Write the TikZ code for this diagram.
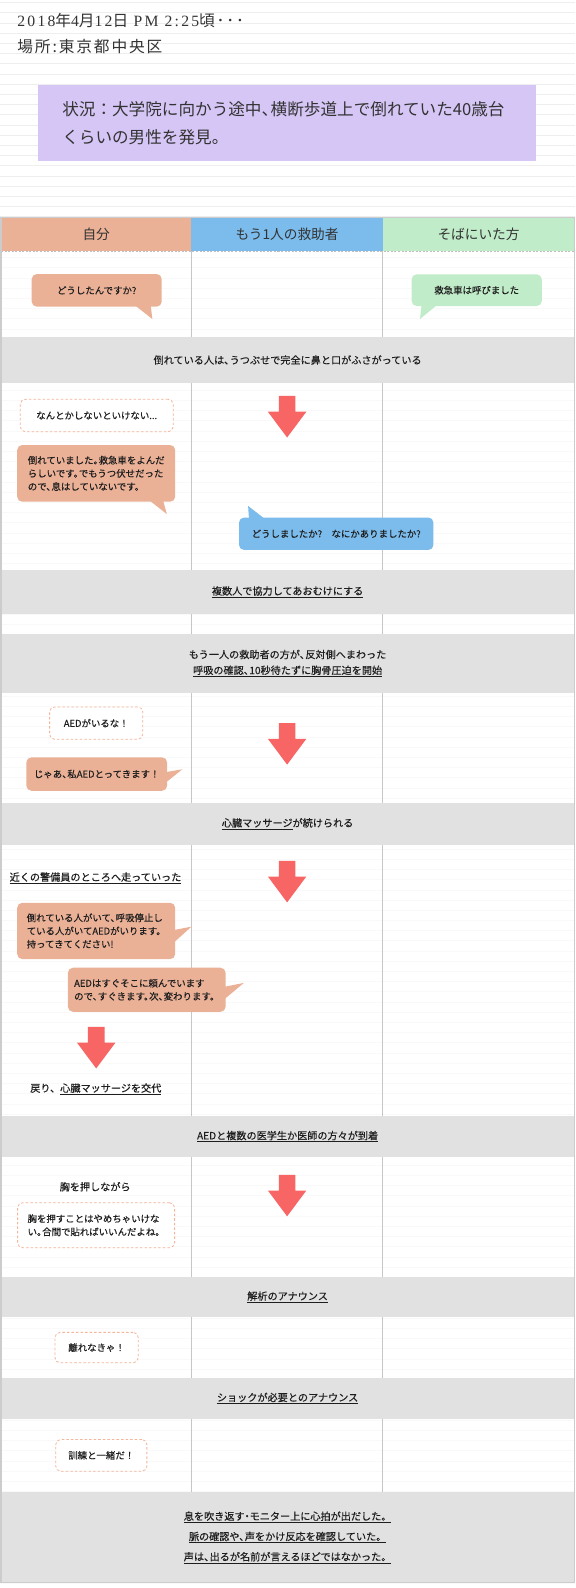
\documentclass[tikz,border=0pt]{standalone}
\usepackage{fontspec}
\setmainfont{Noto Sans CJK JP}
\newfontfamily\datelatin{Liberation Serif}[LetterSpace=14]
\usepackage{xcolor}
\usepackage{tikz}

% half-width 、 and 。 and ・ as in the original layout
\XeTeXinterchartokenstate=1
\newXeTeXintercharclass\halfpunct
\newXeTeXintercharclass\middot
\XeTeXcharclass"3001=\halfpunct
\XeTeXcharclass"3002=\halfpunct
\XeTeXcharclass"30FB=\middot
\XeTeXinterchartoks\halfpunct 0={\kern-.45em}
\XeTeXinterchartoks\halfpunct 1={\kern-.45em}
\XeTeXinterchartoks\halfpunct 2={\kern-.45em}
\XeTeXinterchartoks\halfpunct 3={\kern-.45em}
\XeTeXinterchartoks 0\middot={\kern-.25em}
\XeTeXinterchartoks 1\middot={\kern-.25em}
\XeTeXinterchartoks 3\middot={\kern-.25em}
\XeTeXinterchartoks\middot 0={\kern-.25em}
\XeTeXinterchartoks\middot 1={\kern-.25em}
\XeTeXinterchartoks\middot 3={\kern-.25em}

\definecolor{mecol}{HTML}{EBB197}
\definecolor{helpercol}{HTML}{7BBCEC}
\definecolor{bystandercol}{HTML}{C1ECC9}
\definecolor{arrowred}{HTML}{F76565}
\definecolor{bandgray}{HTML}{E1E1E1}
\definecolor{situcol}{HTML}{D6C6F6}
\definecolor{dashcol}{HTML}{F4B598}
\definecolor{textdark}{HTML}{1E1E1E}
\definecolor{headdark}{HTML}{333333}

\begin{document}
\begin{tikzpicture}[x=1pt, y=-1pt,
    ruletop/.style={draw=gray!13, line width=0.8pt},
    rulerow/.style={draw=gray!5, line width=0.8pt},
    colline/.style={draw=gray!45, line width=1.3pt},
    tableline/.style={draw=gray!40, line width=1.2pt},
    headtext/.style={font=\fontsize{13.5}{16}\selectfont, text=headdark},
    bandtext/.style={font=\fontsize{10}{15.6}\selectfont\addfontfeature{FakeBold=0.3}, text=textdark, align=center},
    rowtext/.style={font=\fontsize{10}{13}\selectfont\addfontfeature{FakeBold=0.3}, text=textdark, inner sep=0pt},
    toptext/.style={font=\fontsize{15.5}{18}\selectfont\addfontfeature{LetterSpace=12}, text=headdark, inner sep=0pt, anchor=west},
    bubble/.style={rounded corners=5pt, inner sep=0pt, font=\fontsize{9.3}{13}\selectfont\addfontfeature{FakeBold=0.3}, text=textdark, align=left},
    mebubble/.style={bubble, fill=mecol},
    helperbubble/.style={bubble, fill=helpercol},
    bystanderbubble/.style={bubble, fill=bystandercol},
    thinkbubble/.style={bubble, fill=white, draw=dashcol, line width=0.8pt, dash pattern=on 2.5pt off 2pt}]

\fill[white] (0,0) rectangle (568,1568);
\useasboundingbox (0,0) rectangle (568,1568);

% ruled paper
\foreach \i in {0,...,21}
  \draw[ruletop] (0,{2.6+10.07*\i}) -- (568,{2.6+10.07*\i});
\foreach \i in {22,...,155}
  \draw[rulerow] (0,{2.6+10.07*\i}) -- (568,{2.6+10.07*\i});

% heading
\node[toptext] (when) at (17,20.4) {{\datelatin 2018}年{\datelatin 4}月{\datelatin 12}日 {\datelatin PM 2:25}頃･･･};
\node[toptext] (where) at (17,46) {場所:東京都中央区};
\node[fill=situcol, minimum width=492, minimum height=75, text width=444, inner xsep=24, align=left,
      font=\fontsize{16.4}{28}\selectfont, text=headdark] (situ) at (283.5,121.5)
  {状況：大学院に向かう途中、横断歩道上で倒れていた40歳台\\くらいの男性を発見。};

% columns
\draw[colline] (189,248) -- (189,1562.5);
\draw[colline] (378,248) -- (378,1562.5);

% header row
\fill[mecol] (1,214.6) rectangle (189,248) node[pos=.5, headtext] (hme) {自分};
\fill[helpercol] (189,214.6) rectangle (378,248) node[pos=.5, headtext] (hhelper) {もう1人の救助者};
\fill[bystandercol] (378,214.6) rectangle (567,248) node[pos=.5, headtext] (hbystander) {そばにいた方};
\draw[gray!50, line width=0.6pt, dash pattern=on 2pt off 1.5pt] (1,248) -- (567,248);

% shared events
\fill[bandgray] (1,333) rectangle (567,378) node[pos=.5, bandtext] (ev1) {倒れている人は、うつぶせで完全に鼻と口がふさがっている};
\fill[bandgray] (1,563) rectangle (567,606) node[pos=.5, bandtext] (ev2) {\underline{複数人で協力してあおむけにする}};
\fill[bandgray] (1,626) rectangle (567,684) node[pos=.5, bandtext] (ev3) {もう一人の救助者の方が、反対側へまわった\\\underline{呼吸の確認、10秒待たずに胸骨圧迫を開始}};
\fill[bandgray] (1,793) rectangle (567,834) node[pos=.5, bandtext] (ev4) {\underline{心臓マッサージ}が続けられる};
\fill[bandgray] (1,1102) rectangle (567,1142.5) node[pos=.5, bandtext] (ev5) {\underline{AEDと複数の医学生か医師の方々が到着}};
\fill[bandgray] (1,1260.7) rectangle (567,1300.8) node[pos=.5, bandtext] (ev6) {\underline{解析のアナウンス}};
\fill[bandgray] (1,1360.4) rectangle (567,1401.2) node[pos=.5, bandtext] (ev7) {\underline{ショックが必要とのアナウンス}};
\fill[bandgray] (1,1473.6) rectangle (567,1562.5) node[pos=.5, bandtext, font=\fontsize{10}{20}\selectfont\addfontfeature{FakeBold=0.3}] (ev8)
  {\underline{息を吹き返す・モニター上に心拍が出だした。}\\\underline{脈の確認や、声をかけ反応を確認していた。}\\\underline{声は、出るが名前が言えるほどではなかった。}};

\draw[tableline] (1,214.6) rectangle (567,1562.5);

% row 1
\node[mebubble, minimum width=128.4, minimum height=32.2] (ask) at (95.5,286.7) {どうしたんですか?};
\coordinate (ask tip) at (150.4,315);
\fill[mecol] ([xshift=-26pt, yshift=1pt]ask.south east) -- (ask tip) -- ([xshift=-11pt, yshift=1pt]ask.south east) -- cycle;
\node[bystanderbubble, minimum width=128.5, minimum height=31.3] (called) at (470.7,286.5) {救急車は呼びました};
\coordinate (called tip) at (414.7,315);
\fill[bystandercol] ([xshift=10pt, yshift=1pt]called.south west) -- (called tip) -- ([xshift=25pt, yshift=1pt]called.south west) -- cycle;

% row 2
\node[thinkbubble, minimum width=151, minimum height=32] (think1) at (95.5,410.3) {なんとかしないといけない...};
\node[mebubble, minimum width=156, minimum height=56] (report) at (95,467.4)
  {倒れていました。救急車をよんだ\\らしいです。でもうつ伏せだった\\ので、息はしていないです。};
\coordinate (report tip) at (164.7,507.6);
\fill[mecol] ([xshift=-25pt, yshift=1pt]report.south east) -- (report tip) -- ([xshift=-12pt, yshift=1pt]report.south east) -- cycle;
\node[helperbubble, minimum width=192, minimum height=32, align=center] (what) at (332,527) {どうしましたか?　なにかありましたか?};
\coordinate (what tip) at (245,499.6);
\fill[helpercol] ([xshift=10pt, yshift=-1pt]what.north west) -- (what tip) -- ([xshift=25pt, yshift=-1pt]what.north west) -- cycle;

% row AED
\node[thinkbubble, minimum width=92, minimum height=32] (think2) at (95,714) {AEDがいるな！};
\node[mebubble, minimum width=139, minimum height=33] (fetch) at (95.5,764.3) {じゃあ、私AEDとってきます！};
\coordinate (fetch tip) at (180,759.6);
\fill[mecol] ([xshift=-1pt, yshift=2pt]fetch.east) -- (fetch tip) -- ([xshift=-1pt, yshift=-8pt]fetch.east) -- cycle;

% row guard
\node[rowtext] (run) at (94.3,867) {\underline{近くの警備員のところへ走っていった}};
\node[mebubble, minimum width=156, minimum height=55.6] (askguard) at (95,919.2)
  {倒れている人がいて、呼吸停止し\\ている人がいてAEDがいります。\\持ってきてください!};
\coordinate (askguard tip) at (189,915);
\fill[mecol] ([xshift=-1pt, yshift=1pt]askguard.east) -- (askguard tip) -- ([xshift=-1pt, yshift=-11pt]askguard.east) -- cycle;
\node[mebubble, minimum width=155.7, minimum height=43.5] (guard) at (144.9,977.3)
  {AEDはすぐそこに頼んでいます\\ので、すぐきます。次、変わります。};
\coordinate (guard tip) at (240.8,970.5);
\fill[mecol] ([xshift=-1pt, yshift=3pt]guard.east) -- (guard tip) -- ([xshift=-1pt, yshift=-9pt]guard.east) -- cycle;
\node[rowtext] (back) at (94.6,1075.4) {戻り、\underline{心臓マッサージを交代}};

% row arrival
\node[rowtext] (press) at (94,1171.8) {胸を押しながら};
\node[thinkbubble, minimum width=155, minimum height=44.4] (think3) at (94.9,1209.8)
  {胸を押すことはやめちゃいけな\\い。合間で貼ればいいんだよね。};

% rows announce
\node[thinkbubble, minimum width=82.2, minimum height=30] (think4) at (95.4,1330.6) {離れなきゃ！};
\node[thinkbubble, minimum width=90, minimum height=31.3] (think5) at (100,1437) {訓練と一緒だ！};

% block arrows
\foreach \cx/\t in {283.5/391, 283.5/714, 283.5/850, 95/1014, 283.5/1160}
  \fill[arrowred] ({\cx-8.25},\t) -- ({\cx+8.25},\t) -- ({\cx+8.25},{\t+15.5}) -- ({\cx+19},{\t+15.5})
    -- (\cx,{\t+41}) -- ({\cx-19},{\t+15.5}) -- ({\cx-8.25},{\t+15.5}) -- cycle;

\end{tikzpicture}
\end{document}
